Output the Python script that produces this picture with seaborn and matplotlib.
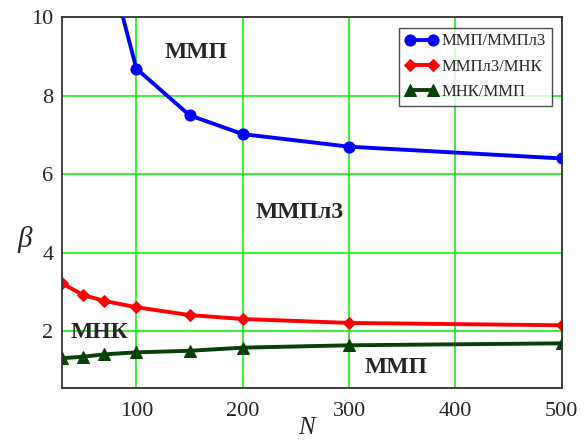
import matplotlib
matplotlib.use("Agg")
import matplotlib.pyplot as plt
import seaborn as sns
import pandas as pd

# values
n_blue = [30, 50, 70, 100, 150, 200, 300, 500]
beta_blue = [19.0, 14.5, 11.8, 8.69, 7.50, 7.02, 6.70, 6.40]

n_red = [30, 50, 70, 100, 150, 200, 300, 500]
beta_red = [3.22, 2.92, 2.77, 2.61, 2.41, 2.31, 2.21, 2.15]

n_green = [30, 50, 70, 100, 150, 200, 300, 500]
beta_green = [1.31, 1.35, 1.41, 1.46, 1.50, 1.58, 1.64, 1.69]

series_names = ['ММП/ММПл3', 'ММПл3/МНК', 'МНК/ММП']
x_ticks = [100, 200, 300, 400, 500]
y_ticks = [2, 4, 6, 8, 10]

sns.set_style("white")
plt.rcParams['font.family'] = ['Liberation Serif', 'DejaVu Serif']

fig = plt.figure(figsize=(5.84, 4.4), dpi=100)
ax = fig.add_axes([0.106, 0.118, 0.856, 0.843])

styles = [
    (n_blue, beta_blue, '#0000ff', 'o', 8),
    (n_red, beta_red, '#ff0000', 'D', 6),
    (n_green, beta_green, '#064206', '^', 8),
]
for (xs, ys, col, mk, ms), name in zip(styles, series_names):
    df = pd.DataFrame({'N': xs, 'beta': ys})
    sns.lineplot(data=df, x='N', y='beta', ax=ax, color=col, marker=mk,
                 markersize=ms, markeredgecolor=col, linewidth=2.8,
                 label=name, clip_on=True)

ax.set_xlim(30, 500)
ax.set_ylim(0.55, 10)
ax.set_xticks(x_ticks)
ax.set_yticks(y_ticks)
ax.tick_params(axis='both', length=0, labelsize=16)
ax.tick_params(axis='x', pad=10)
ax.tick_params(axis='y', pad=6)
ax.grid(True, color='#00ee00', linewidth=1.1)
for sp in ax.spines.values():
    sp.set_color('#333333')
    sp.set_linewidth(1.3)

ax.set_xlabel('N', fontsize=18, style='italic')
ax.xaxis.label.set_va('center')
ax.xaxis.set_label_coords(0.49, -0.108)
ax.set_ylabel('β', fontsize=21, style='italic', rotation=0)
ax.yaxis.label.set_va('center')
ax.yaxis.set_label_coords(-0.075, 0.40)

# region labels
lbl = dict(fontsize=17, fontweight='bold', ha='center', va='center')
ax.text(156, 9.1, 'ММП', **lbl)
ax.text(254, 5.03, 'ММПл3', **lbl)
ax.text(65, 1.97, 'МНК', **lbl)
ax.text(344, 1.07, 'ММП', **lbl)

leg = ax.legend(loc='upper right', bbox_to_anchor=(0.98, 0.972), fontsize=12,
                frameon=True, fancybox=False, edgecolor='#222222',
                handlelength=2.0, handletextpad=0.2, borderpad=0.35,
                labelspacing=0.55, numpoints=2, borderaxespad=0)
leg.get_frame().set_linewidth(1.0)

fig.savefig('out.png', dpi=100)
